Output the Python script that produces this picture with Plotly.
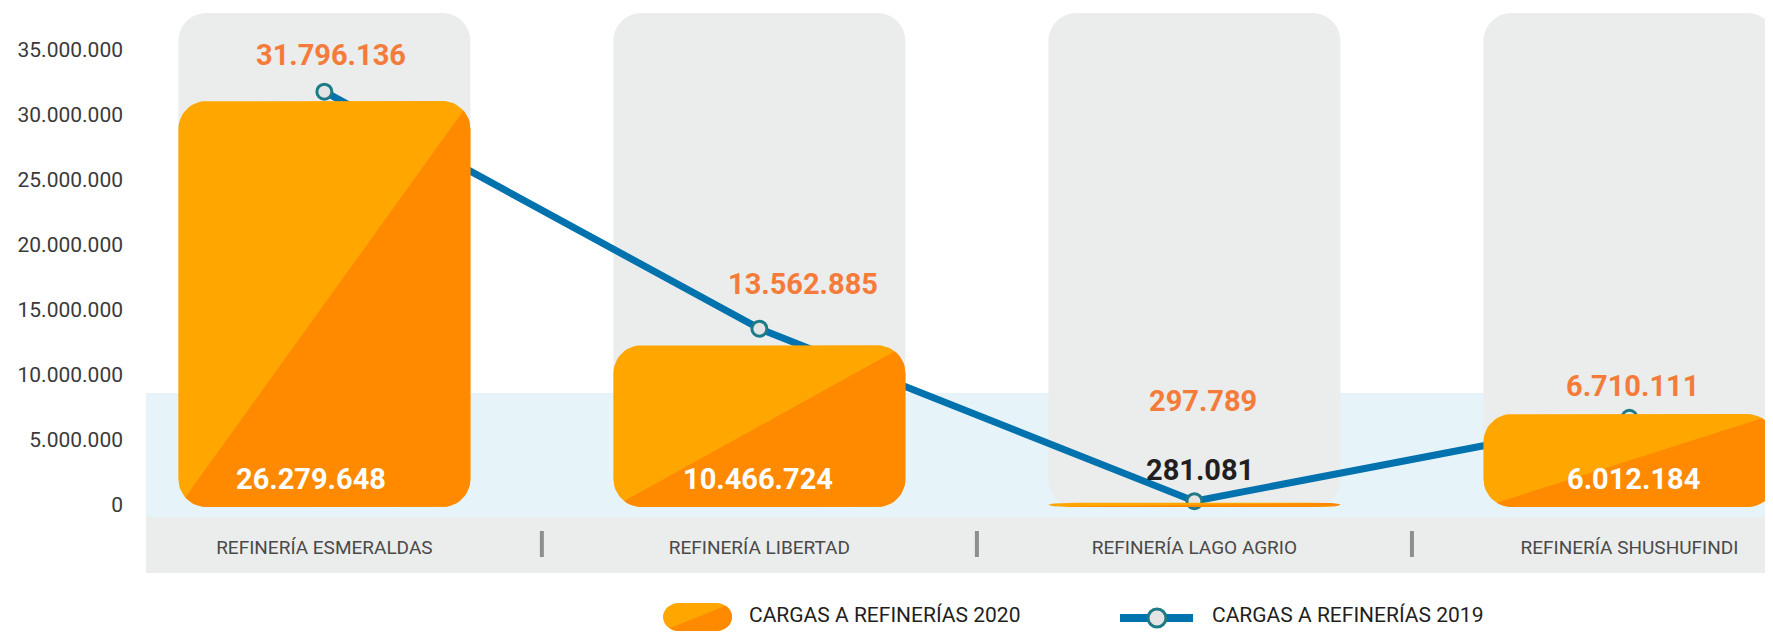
import math
import plotly.graph_objects as go

# ---------------- data ----------------
categories = ["REFINERÍA ESMERALDAS", "REFINERÍA LIBERTAD", "REFINERÍA LAGO AGRIO", "REFINERÍA SHUSHUFINDI"]
cargas_2020 = [26279648, 10466724, 281081, 6012184]
cargas_2019 = [31796136, 13562885, 297789, 6710111]
y_tickvals = [0, 5000000, 10000000, 15000000, 20000000, 25000000, 30000000, 35000000]
name_2020 = "CARGAS A REFINERÍAS 2020"
name_2019 = "CARGAS A REFINERÍAS 2019"


def fmt(v):
    return f"{v:,}".replace(",", ".")


# ---------------- styles / layout ----------------
OFF = 8                      # page body margin
W, H = 1773 - OFF, 632 - OFF
ML, MR, MT = 146 - OFF, 0, 0
PH = 517 - OFF
MB = H - MT - PH
PW = W - ML - MR
X_RANGE = [-0.41, 3.33]
Y_RANGE = [-12 / 13 * 1e6, 497 / 13 * 1e6]
PX_Y2_TARGET = 15.45
Y2_RANGE = [-10 / PX_Y2_TARGET * 1e6, 499 / PX_Y2_TARGET * 1e6]
PX_X = PW / (X_RANGE[1] - X_RANGE[0])
PX_Y2 = PH / (Y2_RANGE[1] - Y2_RANGE[0])
HALF_W = 0.3356
CORNER = 28

FONT = "Roboto, Liberation Sans, sans-serif"
ORANGE_L = "#FFA600"
ORANGE_D = "#FF8A00"
LABEL_ORANGE = "#F47B3A"
BLUE = "#0072AE"
TEAL = "#1E7A86"
GRAY_COL = "#EBECEC"
BLUE_BAND = "#E6F4FA"

lab19_dx = [7, 44, 9, 3]
lab19_dy = [37, 45, 100, 32]
lab20_dx = [-13, -1, 6, 4]
lab20_py = [479, 479, 470, 479]
lab20_col = ["#FFFFFF", "#FFFFFF", "#231F20", "#FFFFFF"]


def px_x(px):
    """screen x pixel -> paper x"""
    return (px - OFF - ML) / PW


def px_y(py):
    """screen y pixel -> paper y"""
    return (OFF + MT + PH - py) / PH


def rounded_rect(x0, x1, y0, y1, rx, ry, n=12):
    rx = min(rx, (x1 - x0) / 2)
    ry = min(ry, (y1 - y0) / 2)
    pts = []
    corners = [((x1 - rx, y1 - ry), 0, 90), ((x0 + rx, y1 - ry), 90, 180),
               ((x0 + rx, y0 + ry), 180, 270), ((x1 - rx, y0 + ry), 270, 360)]
    for (cx, cy), a0, a1 in corners:
        for k in range(n + 1):
            a = math.radians(a0 + (a1 - a0) * k / n)
            pts.append((cx + rx * math.cos(a), cy + ry * math.sin(a)))
    return pts


def clip_lower_right(pts, x0, x1, y0, y1):
    def g(p):
        return (p[0] - x0) / (x1 - x0) - (p[1] - y0) / (y1 - y0)
    out = []
    n = len(pts)
    for i in range(n):
        P, Q = pts[i], pts[(i + 1) % n]
        gp, gq = g(P), g(Q)
        if gp >= 0:
            out.append(P)
        if (gp >= 0) != (gq >= 0):
            t = gp / (gp - gq)
            out.append((P[0] + t * (Q[0] - P[0]), P[1] + t * (Q[1] - P[1])))
    return out


def to_path(pts):
    return "M " + " L ".join(f"{x},{y}" for x, y in pts) + " Z"


fig = go.Figure()

# 2020 bars: rounded two-tone bars drawn in data coordinates (y2 axis)
lx, ly, dx_, dy_ = [], [], [], []
for i, v in enumerate(cargas_2020):
    x0, x1 = i - HALF_W, i + HALF_W
    pts = rounded_rect(x0, x1, 0, v, CORNER / PX_X, CORNER / PX_Y2)
    dark = clip_lower_right(pts, x0, x1, 0, v)
    lx += [p[0] for p in pts] + [pts[0][0], None]
    ly += [p[1] for p in pts] + [pts[0][1], None]
    dx_ += [p[0] for p in dark] + [dark[0][0], None]
    dy_ += [p[1] for p in dark] + [dark[0][1], None]

fig.add_trace(go.Scatter(x=lx, y=ly, yaxis="y2", fill="toself", fillcolor=ORANGE_L,
                         mode="lines", line=dict(width=0, color=ORANGE_L),
                         name=name_2020, hoverinfo="skip", showlegend=False))
fig.add_trace(go.Scatter(x=dx_, y=dy_, yaxis="y2", fill="toself", fillcolor=ORANGE_D,
                         mode="lines", line=dict(width=0, color=ORANGE_D),
                         name=name_2020, hoverinfo="skip", showlegend=False))
fig.add_trace(go.Scatter(x=list(range(len(categories))), y=cargas_2020, yaxis="y2",
                         mode="markers", marker=dict(size=1, opacity=0),
                         name=name_2020, text=[fmt(v) for v in cargas_2020],
                         hovertemplate="%{text}<extra>2020</extra>", showlegend=False))

# 2019 line
fig.add_trace(go.Scatter(x=list(range(len(categories))), y=cargas_2019, yaxis="y",
                         mode="lines+markers", name=name_2019,
                         line=dict(color=BLUE, width=7),
                         marker=dict(size=15, color="#E4E4E4", line=dict(color=TEAL, width=3)),
                         text=[fmt(v) for v in cargas_2019],
                         hovertemplate="%{text}<extra>2019</extra>", showlegend=False))

shapes = []
shapes.append(dict(type="rect", xref="paper", yref="paper", x0=0, x1=1,
                   y0=0, y1=px_y(393), fillcolor=BLUE_BAND, line_width=0, layer="below"))
for i in range(len(categories)):
    x0, x1 = i - HALF_W, i + HALF_W
    pts = rounded_rect(x0, x1, px_y(507), px_y(13), CORNER / PX_X, CORNER / PH)
    shapes.append(dict(type="path", xref="x", yref="paper", path=to_path(pts),
                       fillcolor=GRAY_COL, line_width=0, layer="below"))
shapes.append(dict(type="rect", xref="paper", yref="paper", x0=0, x1=1,
                   y0=px_y(573), y1=0, fillcolor=GRAY_COL, line_width=0, layer="below"))
for i in range(len(categories) - 1):
    shapes.append(dict(type="line", xref="x", yref="paper", x0=i + 0.5, x1=i + 0.5,
                       y0=px_y(531), y1=px_y(557), line=dict(color="#8C8E90", width=4)))
# legend swatch 2020
bx0, bx1, by0, by1 = px_x(663), px_x(732), px_y(631), px_y(603)
pts = rounded_rect(bx0, bx1, by0, by1, 16 / PW, 16 / PH)
shapes.append(dict(type="path", xref="paper", yref="paper", path=to_path(pts),
                   fillcolor=ORANGE_L, line_width=0))
shapes.append(dict(type="path", xref="paper", yref="paper",
                   path=to_path(clip_lower_right(pts, bx0, bx1, by0, by1)),
                   fillcolor=ORANGE_D, line_width=0))
# legend swatch 2019
shapes.append(dict(type="line", xref="paper", yref="paper", x0=px_x(1120), x1=px_x(1193),
                   y0=px_y(618), y1=px_y(618), line=dict(color=BLUE, width=8)))
shapes.append(dict(type="circle", xref="paper", yref="paper", x0=px_x(1148), x1=px_x(1166),
                   y0=px_y(627), y1=px_y(609), fillcolor="#E4E4E4", line=dict(color=TEAL, width=3)))

annotations = []
for i, v in enumerate(cargas_2019):
    annotations.append(dict(x=i, y=v, xref="x", yref="y", text=fmt(v), showarrow=False,
                            xshift=lab19_dx[i], yshift=lab19_dy[i], yanchor="middle",
                            font=dict(family=FONT, size=29, color=LABEL_ORANGE, weight="bold")))
for i, v in enumerate(cargas_2020):
    annotations.append(dict(x=i, y=px_y(lab20_py[i]), xref="x", yref="paper", text=fmt(v),
                            showarrow=False, xshift=lab20_dx[i], yanchor="middle",
                            font=dict(family=FONT, size=29, color=lab20_col[i], weight="bold")))
annotations.append(dict(x=px_x(747), y=px_y(615), xref="paper", yref="paper", text=name_2020,
                        showarrow=False, xanchor="left", yanchor="middle",
                        font=dict(family=FONT, size=21, color="#231F20")))
annotations.append(dict(x=px_x(1210), y=px_y(615), xref="paper", yref="paper", text=name_2019,
                        showarrow=False, xanchor="left", yanchor="middle",
                        font=dict(family=FONT, size=21, color="#231F20")))

fig.update_layout(
    width=W, height=H, autosize=False,
    margin=dict(l=ML, r=MR, t=MT, b=MB, pad=0),
    paper_bgcolor="white", plot_bgcolor="white",
    showlegend=False,
    shapes=shapes, annotations=annotations,
    xaxis=dict(range=X_RANGE, tickvals=list(range(len(categories))), ticktext=categories,
               showgrid=False, zeroline=False, showline=False, ticks="",
               tickfont=dict(family=FONT, size=19, color="#4A4A4A"), ticklabelstandoff=17),
    yaxis=dict(range=Y_RANGE, tickvals=y_tickvals, ticktext=[fmt(v) for v in y_tickvals],
               showgrid=False, zeroline=False, showline=False, ticks="",
               tickfont=dict(family=FONT, size=21, color="#3A3A3A"), ticklabelstandoff=22),
    yaxis2=dict(range=Y2_RANGE, overlaying="y", visible=False),
)

fig.write_html("out.html")
